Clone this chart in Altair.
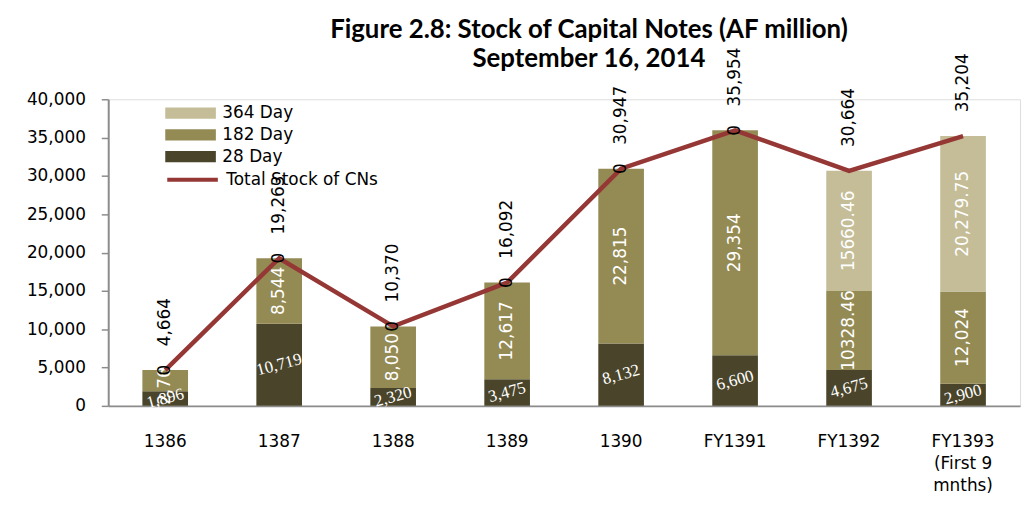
import altair as alt
import pandas as pd

categories = ["1386", "1387", "1388", "1389", "1390", "FY1391", "FY1392", "FY1393|(First 9|mnths)"]
day28 = [1896, 10719, 2320, 3475, 8132, 6600, 4675, 2900]
day182 = [2768, 8544, 8050, 12617, 22815, 29354, 10328.46, 12024]
day364 = [0, 0, 0, 0, 0, 0, 15660.46, 20279.75]
label28 = ["1,896", "10,719", "2,320", "3,475", "8,132", "6,600", "4,675", "2,900"]
label182 = ["2,768", "8,544", "8,050", "12,617", "22,815", "29,354", "10328.46", "12,024"]
label364 = ["0", "0", "0", "0", "0", "0", "15660.46", "20,279.75"]
totals = [4664, 19263, 10370, 16092, 30947, 35954, 30664, 35204]
total_labels = ["4,664", "19,263", "10,370", "16,092", "30,947", "35,954", "30,664", "35,204"]

legend_order = ["364 Day", "182 Day", "28 Day"]
bar_colors = ["#C4BD97", "#948A54", "#4A452A"]
line_name = "Total Stock of CNs"
line_color = "#953735"
y_ticks = [0, 5000, 10000, 15000, 20000, 25000, 30000, 35000, 40000]

FONT = "DejaVu Sans"

rows = []
for i, cat in enumerate(categories):
    base = 0.0
    for k, (name, vals, labs) in enumerate(
        [("28 Day", day28, label28), ("182 Day", day182, label182), ("364 Day", day364, label364)]
    ):
        v = vals[i]
        rows.append(dict(cat=cat, series=name, order=k, value=v, label=labs[i],
                         y0=base, y1=base + v, mid=base + v / 2.0))
        base += v
seg = pd.DataFrame(rows)
tot = pd.DataFrame(dict(cat=categories, total=totals, tlabel=total_labels,
                        series=[line_name] * len(categories)))

x_axis = alt.Axis(labelAngle=0, ticks=False, domainColor="#8C8C8C", domainWidth=2,
                  labelFont=FONT, labelFontSize=17, labelColor="#000000",
                  labelPadding=28, labelExpr="split(datum.label, '|')",
                  labelLineHeight=22, labelBaseline="top")
x_scale = alt.Scale(paddingInner=0, paddingOuter=0)
y_axis = alt.Axis(values=y_ticks, tickCount=9, labelExpr="format(datum.value, ',.0f')",
                  labelOverlap=False, grid=False, domainColor="#8C8C8C",
                  domainWidth=2, tickColor="#8C8C8C", tickSize=7, tickWidth=1.5,
                  labelFont=FONT, labelFontSize=17, labelColor="#000000",
                  labelPadding=16)
y_scale = alt.Scale(domain=[0, 40000], nice=False)


def X():
    return alt.X("cat:N", sort=categories, title=None, scale=x_scale, axis=x_axis)


def Y(field):
    return alt.Y(field, scale=y_scale, title=None, axis=y_axis)


base_seg = alt.Chart(seg)

bars = base_seg.mark_bar(size=46).encode(
    x=X(),
    y=Y("y0:Q"),
    y2="y1:Q",
    color=alt.Color("series:N",
                    scale=alt.Scale(domain=legend_order, range=bar_colors),
                    legend=alt.Legend(title=None, orient="none", legendX=73, legendY=4,
                                      symbolType="M-2.55,-0.56L2.55,-0.56L2.55,0.56L-2.55,0.56Z",
                                      symbolSize=400, symbolStrokeWidth=0,
                                      labelFont=FONT, labelFontSize=17, labelColor="#000000",
                                      labelOffset=22, rowPadding=3.9, padding=0)),
    order=alt.Order("order:Q"),
)

lab28 = base_seg.transform_filter("datum.series == '28 Day'").mark_text(
    angle=345, font="Liberation Serif", fontSize=17, color="white",
    align="center", baseline="middle"
).encode(x=X(), y=Y("mid:Q"), text="label:N")

lab182 = base_seg.transform_filter("datum.series == '182 Day'").mark_text(
    angle=270, font=FONT, fontSize=17, color="white",
    align="center", baseline="middle"
).encode(x=X(), y=Y("mid:Q"), text="label:N")

lab364 = base_seg.transform_filter("datum.series == '364 Day'").mark_text(
    angle=270, font=FONT, fontSize=17,
    align="center", baseline="middle"
).encode(
    x=X(), y=Y("mid:Q"), text="label:N",
    color=alt.condition("datum.value == 0", alt.value("#000000"), alt.value("#FFFFFF")),
)

line = alt.Chart(tot).mark_line(strokeWidth=4.5).encode(
    x=X(),
    y=Y("total:Q"),
    stroke=alt.Stroke("series:N", scale=alt.Scale(domain=[line_name], range=[line_color]),
                      legend=alt.Legend(title=None, orient="none", legendX=73, legendY=69,
                                        symbolType="M-2.55,0L2.55,0", symbolSize=400,
                                        symbolStrokeWidth=4,
                                        labelFont=FONT, labelFontSize=17,
                                        labelColor="#000000", labelOffset=22, padding=0)),
)

tot_text = alt.Chart(tot).mark_text(
    angle=270, font=FONT, fontSize=17, color="#000000",
    align="left", baseline="middle", dx=24
).encode(x=X(), y=Y("total:Q"), text="tlabel:N")

chart = alt.layer(bars, lab28, lab182, line, lab364, tot_text).properties(
    width=919, height=309,
    autosize=alt.AutoSizeParams(type="none"),
    padding={"left": 101, "top": 90, "right": 6, "bottom": 110},
    title=alt.TitleParams(
        text=["Figure 2.8: Stock of Capital Notes (AF million)", "September 16, 2014"],
        font="Lato", fontSize=26, fontWeight="bold", color="#000000",
        anchor="middle", frame="group", dx=25, dy=55, lineHeight=30, offset=30,
    ),
).configure_view(stroke=None).configure(background="white")

chart.save("out.html", embed_options={"renderer": "svg", "actions": False})
